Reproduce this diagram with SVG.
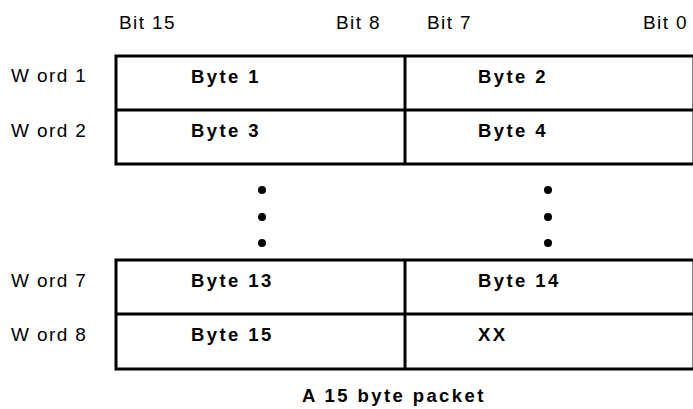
<svg xmlns="http://www.w3.org/2000/svg" width="693" height="409" viewBox="0 0 693 409">
<style>
.lbl{font-family:"Liberation Sans",Arial,sans-serif;font-size:19px;letter-spacing:1.4px;fill:#000}
.byte{font-family:"Liberation Sans",Arial,sans-serif;font-size:18.5px;font-weight:bold;letter-spacing:2.4px;fill:#000}
.line{stroke:#000;stroke-width:3;fill:none}
.dot{fill:#000}
</style>
<rect width="693" height="409" fill="#fff"/>
<g id="bit-labels">
<text class="lbl" x="119" y="29">Bit 15</text>
<text class="lbl" x="336" y="29">Bit 8</text>
<text class="lbl" x="427" y="29">Bit 7</text>
<text class="lbl" x="643" y="29">Bit 0</text>
</g>
<g id="word-labels">
<text class="lbl" x="11" y="82">W ord 1</text>
<text class="lbl" x="11" y="137">W ord 2</text>
<text class="lbl" x="11" y="287">W ord 7</text>
<text class="lbl" x="11" y="341">W ord 8</text>
</g>
<g id="upper-table">
<rect class="line" x="116" y="56" width="578" height="108"/>
<line class="line" x1="116" y1="110" x2="693" y2="110"/>
<line class="line" x1="405" y1="56" x2="405" y2="164"/>
</g>
<g id="byte1"><text class="byte" x="191" y="83">Byte 1</text></g>
<g id="byte2"><text class="byte" x="478" y="83">Byte 2</text></g>
<g id="byte3"><text class="byte" x="191" y="137">Byte 3</text></g>
<g id="byte4"><text class="byte" x="478" y="137">Byte 4</text></g>
<g id="ellipsis">
<circle class="dot" cx="262" cy="190" r="4"/>
<circle class="dot" cx="262" cy="217" r="4"/>
<circle class="dot" cx="262" cy="243" r="4"/>
<circle class="dot" cx="548" cy="190" r="4"/>
<circle class="dot" cx="548" cy="217" r="4"/>
<circle class="dot" cx="548" cy="243" r="4"/>
</g>
<g id="lower-table">
<rect class="line" x="116" y="260" width="578" height="109"/>
<line class="line" x1="116" y1="314" x2="693" y2="314"/>
<line class="line" x1="405" y1="260" x2="405" y2="369"/>
</g>
<g id="byte13"><text class="byte" x="191" y="287">Byte 13</text></g>
<g id="byte14"><text class="byte" x="478" y="287">Byte 14</text></g>
<g id="byte15"><text class="byte" x="191" y="341">Byte 15</text></g>
<g id="xx"><text class="byte" x="478" y="341">XX</text></g>
<g id="caption"><text class="byte" x="302" y="402">A 15 byte packet</text></g>
</svg>
